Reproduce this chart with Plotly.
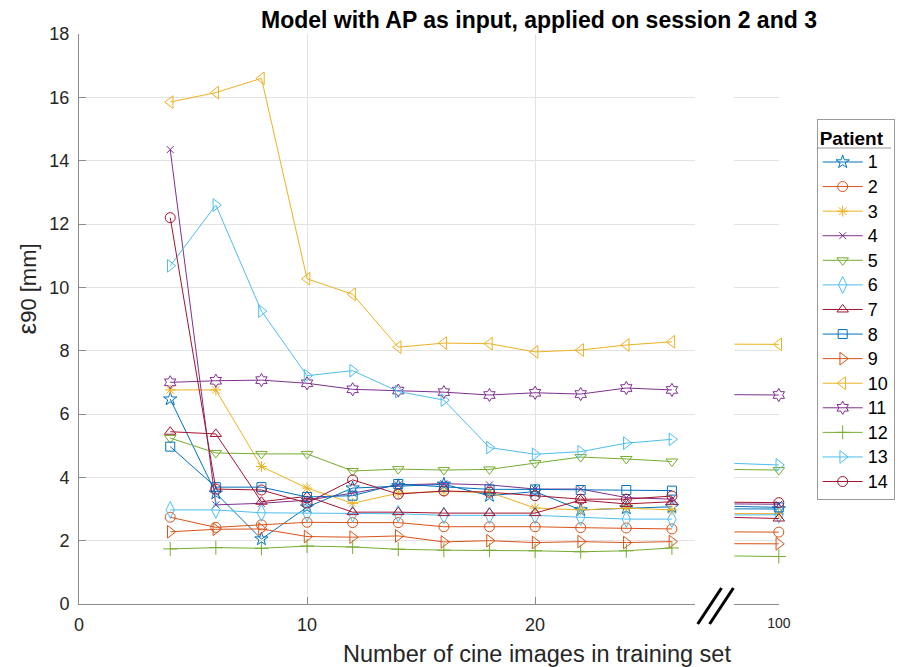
import plotly.graph_objects as go

# ---- data ----
x_main = [4, 6, 8, 10, 12, 14, 16, 18, 20, 22, 24, 26]
x_last = 100
patients = ["1", "2", "3", "4", "5", "6", "7", "8", "9", "10", "11", "12", "13", "14"]

p1 = [6.47, 3.50, 2.05, 3.06, 3.66, 3.73, 3.78, 3.42, 3.55, 2.97, 3.03, 3.07]
p2 = [2.74, 2.42, 2.50, 2.58, 2.57, 2.57, 2.44, 2.44, 2.44, 2.41, 2.40, 2.37]
p3 = [6.76, 6.76, 4.34, 3.66, 3.18, 3.50, 3.55, 3.53, 3.03, 2.97, 3.03, 2.97]
p4 = [14.35, 3.13, 3.18, 3.28, 3.50, 3.76, 3.80, 3.76, 3.63, 3.63, 3.36, 3.31]
p5 = [5.24, 4.77, 4.74, 4.74, 4.20, 4.26, 4.23, 4.25, 4.45, 4.64, 4.58, 4.50]
p6 = [2.97, 2.97, 2.88, 2.87, 2.85, 2.85, 2.80, 2.80, 2.80, 2.74, 2.68, 2.68]
p7 = [5.44, 5.37, 3.23, 3.40, 2.90, 2.90, 2.87, 2.87, 2.87, 3.28, 3.16, 3.23]
p8 = [4.97, 3.69, 3.69, 3.38, 3.42, 3.79, 3.70, 3.62, 3.62, 3.60, 3.60, 3.58]
p9 = [2.28, 2.36, 2.37, 2.13, 2.11, 2.15, 1.96, 2.00, 1.94, 1.97, 1.94, 1.97]
p10 = [15.85, 16.15, 16.60, 10.27, 9.78, 8.11, 8.24, 8.22, 7.96, 8.02, 8.18, 8.28]
p11 = [7.00, 7.05, 7.07, 6.97, 6.78, 6.74, 6.69, 6.60, 6.67, 6.63, 6.82, 6.76]
p12 = [1.74, 1.78, 1.76, 1.83, 1.80, 1.73, 1.70, 1.70, 1.68, 1.65, 1.68, 1.77]
p13 = [10.68, 12.60, 9.25, 7.21, 7.37, 6.71, 6.44, 4.94, 4.73, 4.81, 5.08, 5.20]
p14 = [12.20, 3.63, 3.60, 3.19, 3.92, 3.47, 3.57, 3.53, 3.42, 3.31, 3.31, 3.41]
series = [p1, p2, p3, p4, p5, p6, p7, p8, p9, p10, p11, p12, p13, p14]

at_100 = [3.00, 2.27, 2.85, 3.15, 4.23, 2.82, 2.70, 3.05, 1.90, 8.20, 6.60, 1.50, 4.39, 3.20]

x_ticks_main = [0, 10, 20]
y_ticks = [0, 2, 4, 6, 8, 10, 12, 14, 16, 18]

# ---- style ----
colors = ["#0072BD", "#D95319", "#EDB120", "#7E2F8E", "#77AC30", "#4DBEEE", "#A2142F"] * 2
symbols = ["star-open", "circle-open", "asterisk-open", "x-thin-open", "triangle-down-open",
           "diamond-tall-open", "triangle-up-open", "square-open", "triangle-right-open",
           "triangle-left-open", "hexagram-open", "cross-thin-open", "triangle-right-open",
           "circle-open"]
sizes = [10, 10, 9, 7, 10, 12, 10, 9, 11, 11, 10, 10, 11, 10]

W, H = 907, 667
L, R, T, B = 79, 785, 34, 604
def px(xp):
    return (xp - L) / (R - L)
def py(yp):
    return (B - yp) / (B - T)

fig = go.Figure()
for i, name in enumerate(patients):
    fig.add_trace(go.Scatter(
        x=x_main, y=series[i], name="<span style='font-size:18px'>" + name + "</span>",
        mode="lines+markers",
        line=dict(color=colors[i], width=1),
        marker=dict(symbol=symbols[i], size=sizes[i], color=colors[i],
                    line=dict(color=colors[i], width=1)),
        xaxis="x", yaxis="y"))
for i, name in enumerate(patients):
    fig.add_trace(go.Scatter(
        x=[x_main[-1], x_last], y=[series[i][-1], at_100[i]], mode="lines",
        line=dict(color=colors[i], width=1), showlegend=False,
        xaxis="x2", yaxis="y"))
    fig.add_trace(go.Scatter(
        x=[x_last], y=[at_100[i]], mode="markers", showlegend=False, cliponaxis=False,
        marker=dict(symbol=symbols[i], size=sizes[i], color=colors[i],
                    line=dict(color=colors[i], width=1)),
        xaxis="x2", yaxis="y"))

axis_common = dict(showgrid=True, gridcolor="#e3e3e3", gridwidth=1, zeroline=False,
                   showline=True, linecolor="#8c8c8c", linewidth=1,
                   ticks="inside", ticklen=7, tickcolor="#8c8c8c")

fig.update_layout(
    width=W, height=H,
    margin=dict(l=L, r=W - R, t=T, b=H - B),
    paper_bgcolor="white", plot_bgcolor="white",
    font=dict(family="Liberation Sans", color="#262626"),
    xaxis=dict(domain=[0, px(700)], range=[0, 27], tickvals=x_ticks_main,
               ticklabelstandoff=4,
               tickfont=dict(family="Liberation Sans", size=18, color="#262626"),
               **axis_common),
    xaxis2=dict(domain=[px(740), 1], range=[95.4, 100.02], tickvals=[x_last], anchor="y",
                ticklabelstandoff=6,
                tickfont=dict(family="Liberation Sans", size=14, color="#262626"),
                **axis_common),
    yaxis=dict(range=[0, 18], tickvals=y_ticks, anchor="x", ticklabelstandoff=5,
               tickfont=dict(family="Liberation Sans", size=18, color="#262626"),
               **axis_common),
    legend=dict(x=px(823), y=py(119), xanchor="left", yanchor="top",
                bordercolor="#9a9a9a", borderwidth=1, bgcolor="rgba(0,0,0,0)",
                font=dict(family="Liberation Sans", size=16.6, color="#000000"),
                itemwidth=40,
                title=dict(text="<b>Patient</b>", side="top",
                           font=dict(family="Liberation Sans", size=19, color="#000000"))),
    showlegend=True,
)

annotations = [
    dict(text="<b>Model with AP as input, applied on session 2 and 3</b>",
         x=px(543), y=py(20), xref="paper", yref="paper", showarrow=False,
         xanchor="center", yanchor="middle",
         font=dict(family="Liberation Sans", size=23, color="#000000")),
    dict(text="Number of cine images in training set",
         x=px(541), y=py(654), xref="paper", yref="paper", showarrow=False,
         xanchor="center", yanchor="middle",
         font=dict(family="Liberation Sans", size=23.5, color="#262626")),
    dict(text="<span style='font-size:26px'>ε</span>90 [mm]",
         x=px(27), y=py(289), xref="paper", yref="paper", showarrow=False,
         xanchor="center", yanchor="middle", textangle=-90,
         font=dict(family="Liberation Sans", size=22, color="#262626")),
]
fig.update_layout(annotations=annotations)

shapes = [
    dict(type="line", xref="paper", yref="paper", x0=px(703), y0=py(624), x1=px(727), y1=py(588),
         line=dict(color="black", width=3)),
    dict(type="line", xref="paper", yref="paper", x0=px(715), y0=py(624), x1=px(739), y1=py(588),
         line=dict(color="black", width=3)),
    dict(type="line", xref="paper", yref="paper", x0=px(823), y0=py(148), x1=px(898), y1=py(148),
         line=dict(color="#9a9a9a", width=1)),
]
fig.update_layout(shapes=shapes)

fig.write_html("out.html")
